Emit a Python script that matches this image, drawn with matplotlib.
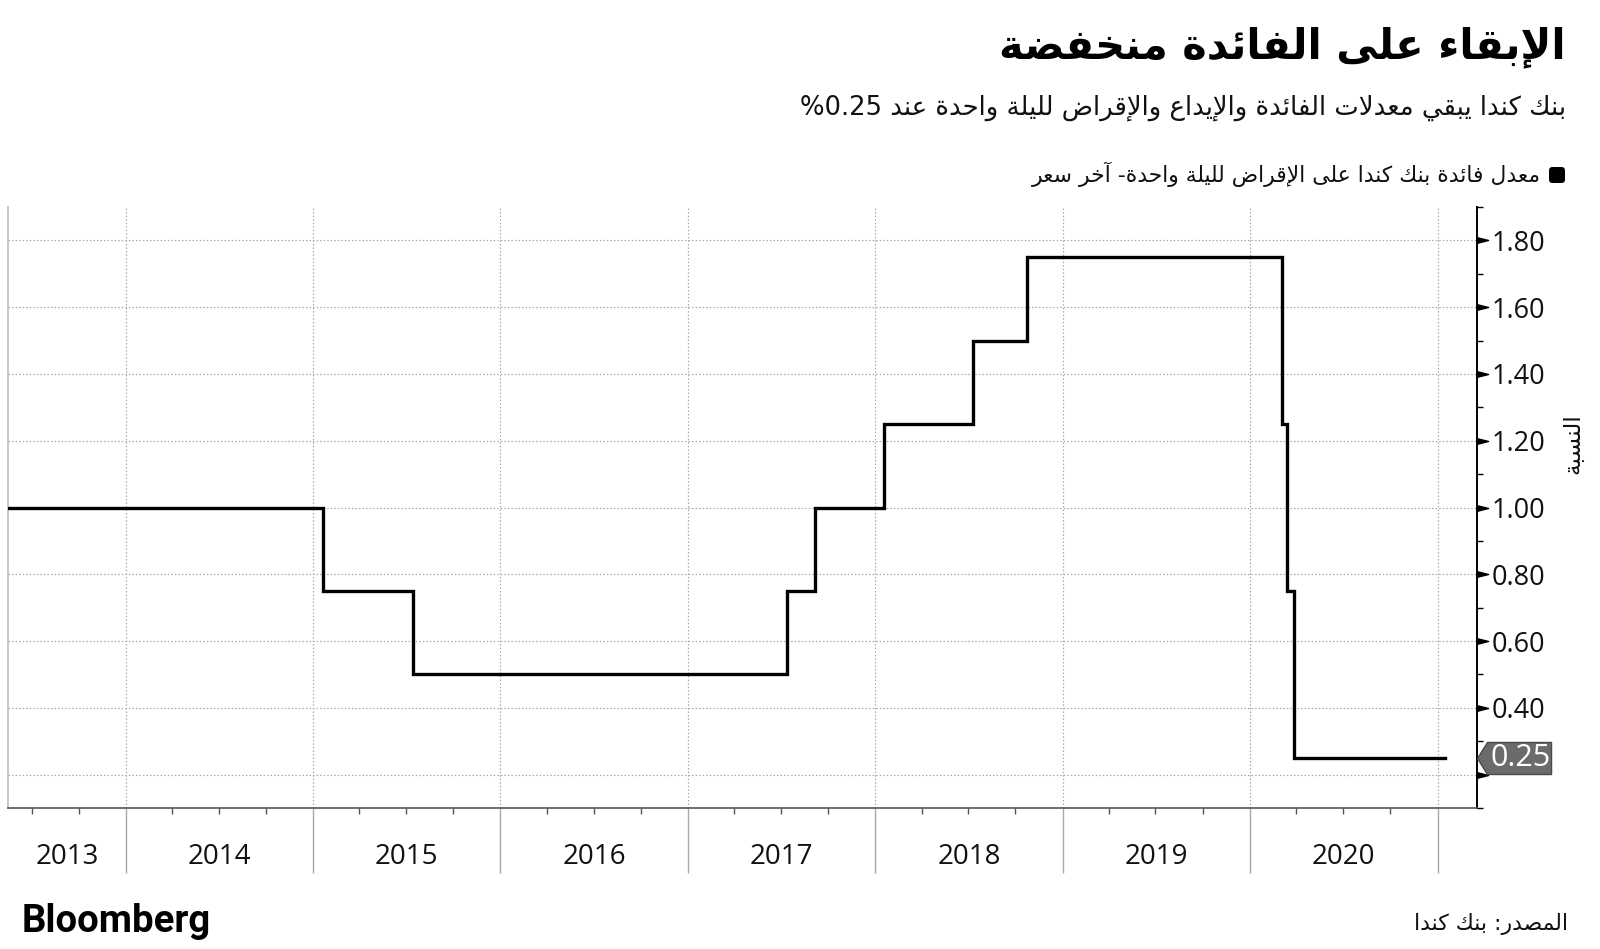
import re
import datetime as dt
import matplotlib
matplotlib.use("Agg")
import matplotlib.pyplot as plt
import matplotlib.dates as mdates
from matplotlib.ticker import FixedLocator, FixedFormatter, NullFormatter
from matplotlib.patches import FancyBboxPatch

# ---------------- data ----------------
title = "الإبقاء على الفائدة منخفضة"
subtitle = "بنك كندا يبقي معدلات الفائدة والإيداع والإقراض لليلة واحدة عند 0.25%"
legend_label = "معدل فائدة بنك كندا على الإقراض لليلة واحدة- آخر سعر"
y_label = "النسبة"
source = "المصدر: بنك كندا"
brand = "Bloomberg"

change_dates = ["2013-05-16", "2015-01-21", "2015-07-15", "2017-07-12",
                "2017-09-06", "2018-01-17", "2018-07-11", "2018-10-24",
                "2020-03-04", "2020-03-13", "2020-03-27", "2021-01-15"]
rates = [1.00, 0.75, 0.50, 0.75, 1.00, 1.25, 1.50, 1.75, 1.25, 0.75, 0.25, 0.25]

years = [2013, 2014, 2015, 2016, 2017, 2018, 2019, 2020]
y_major = [0.2, 0.4, 0.6, 0.8, 1.0, 1.2, 1.4, 1.6, 1.8]
y_major_labels = ["", "0.40", "0.60", "0.80", "1.00", "1.20", "1.40", "1.60", "1.80"]
y_minor = [0.1, 0.3, 0.5, 0.7, 0.9, 1.1, 1.3, 1.5, 1.7, 1.9]
last_value_label = "0.25"
last_value = 0.25

# ---------------- Arabic shaping (presentation forms + visual order) ----------------
_DUAL = {'ئ': 0xFE89, 'ب': 0xFE8F, 'ت': 0xFE95, 'ث': 0xFE99, 'ج': 0xFE9D, 'ح': 0xFEA1,
         'خ': 0xFEA5, 'س': 0xFEB1, 'ش': 0xFEB5, 'ص': 0xFEB9, 'ض': 0xFEBD, 'ط': 0xFEC1,
         'ظ': 0xFEC5, 'ع': 0xFEC9, 'غ': 0xFECD, 'ف': 0xFED1, 'ق': 0xFED5, 'ك': 0xFED9,
         'ل': 0xFEDD, 'م': 0xFEE1, 'ن': 0xFEE5, 'ه': 0xFEE9, 'ي': 0xFEF1}
_RIGHT = {'آ': 0xFE81, 'أ': 0xFE83, 'ؤ': 0xFE85, 'إ': 0xFE87, 'ا': 0xFE8D, 'ة': 0xFE93,
          'د': 0xFEA9, 'ذ': 0xFEAB, 'ر': 0xFEAD, 'ز': 0xFEAF, 'و': 0xFEED, 'ى': 0xFEEF}
_NONE = {'ء': 0xFE80}
_LAMALEF = {'آ': 0xFEF5, 'أ': 0xFEF7, 'إ': 0xFEF9, 'ا': 0xFEFB}


def ar(s):
    out = []
    n = len(s)
    i = 0
    while i < n:
        c = s[i]
        prev_dual = i > 0 and s[i - 1] in _DUAL
        if c == 'ل' and i + 1 < n and s[i + 1] in _LAMALEF:
            base = _LAMALEF[s[i + 1]]
            out.append(chr(base + (1 if prev_dual else 0)))
            i += 2
            continue
        if c in _DUAL:
            nxt = i + 1 < n and (s[i + 1] in _DUAL or s[i + 1] in _RIGHT)
            base = _DUAL[c]
            if prev_dual and nxt:
                code = base + 3
            elif prev_dual:
                code = base + 1
            elif nxt:
                code = base + 2
            else:
                code = base
            out.append(chr(code))
        elif c in _RIGHT:
            out.append(chr(_RIGHT[c] + (1 if prev_dual else 0)))
        elif c in _NONE:
            out.append(chr(_NONE[c]))
        else:
            out.append(c)
        i += 1
    shaped = ''.join(out)
    tokens = re.findall(r'[0-9A-Za-z.]+|.', shaped)
    return ''.join(reversed(tokens))


AR_FONT = ["DejaVu Sans"]
NUM_FONT = ["Open Sans", "DejaVu Sans"]

# ---------------- figure ----------------
W, H = 1600, 949
fig = plt.figure(figsize=(W / 100, H / 100), dpi=100)
fig.patch.set_facecolor("white")


def fx(px):
    return px / W


def fy(py):
    return 1 - py / H


ax = fig.add_axes([fx(8), fy(808), fx(1477) - fx(8), fy(207) - fy(808)])

dates = [dt.datetime.strptime(d, "%Y-%m-%d") for d in change_dates]
ax.plot(dates, rates, drawstyle="steps-post", color="black", lw=2.4,
        solid_joinstyle="miter", zorder=3)

x0 = dt.datetime(2013, 5, 16)
x1 = dt.datetime(2021, 3, 19)
ax.set_xlim(x0, x1)
ax.set_ylim(0.1, 1.9)

# x axis ticks
year_starts = [dt.datetime(y + 1, 1, 1) for y in years]
quarters = [dt.datetime(y, m, 1) for y in years + [2021] for m in (4, 7, 10)]
ax.xaxis.set_major_locator(FixedLocator(mdates.date2num(year_starts)))
ax.xaxis.set_minor_locator(FixedLocator(mdates.date2num(quarters)))
ax.xaxis.set_major_formatter(NullFormatter())
ax.xaxis.set_minor_formatter(NullFormatter())
ax.tick_params(axis="x", which="major", direction="out", length=47, width=1,
               color="#a8a8a8")
ax.tick_params(axis="x", which="minor", direction="out", length=4, width=1,
               color="#555555")

# y axis on the right
ax.yaxis.tick_right()
ax.yaxis.set_major_locator(FixedLocator(y_major))
ax.yaxis.set_major_formatter(FixedFormatter(y_major_labels))
ax.yaxis.set_minor_locator(FixedLocator(y_minor))
ax.tick_params(axis="y", which="major", length=0, pad=10.5, labelsize=19.5,
               labelcolor="#111111")
ax.tick_params(axis="y", which="minor", direction="out", length=4.3, width=1,
               color="black", right=True, left=False)
for lab in ax.get_yticklabels():
    lab.set_family(NUM_FONT)

# triangle major tick marks
tri = [(0, -2.5), (10, 0), (0, 2.5), (0, -2.5)]
ax.plot([1] * len(y_major), y_major, ls="none", marker=tri, ms=16, color="black",
        transform=ax.get_yaxis_transform(), clip_on=False, zorder=4)

# grid
ax.grid(True, which="major", axis="both", linestyle=(0, (1.2, 1.8)),
        color="#a4a4a4", lw=0.85)
ax.set_axisbelow(True)

# spines
ax.spines["top"].set_visible(False)
ax.spines["left"].set_color("#bdbdbd")
ax.spines["left"].set_linewidth(1.2)
ax.spines["right"].set_color("black")
ax.spines["right"].set_linewidth(1.4)
ax.spines["bottom"].set_color("#555555")
ax.spines["bottom"].set_linewidth(1.2)

# year labels centred on the visible part of each year
for y in years:
    a = max(mdates.date2num(dt.datetime(y, 1, 1)), mdates.date2num(x0))
    b = min(mdates.date2num(dt.datetime(y + 1, 1, 1)), mdates.date2num(x1))
    ax.text((a + b) / 2, -0.0815, str(y), transform=ax.get_xaxis_transform(),
            ha="center", va="center", fontsize=20, family=NUM_FONT,
            color="#111111")

# last value label (pointer box)
box = [(0, 0), (10, -16), (74, -16), (74, 16), (10, 16), (0, 0)]
ax.plot([1], [last_value], ls="none", marker=box, ms=106.6, mfc="#6b6b6b",
        mec="#4a4a4a", mew=1, transform=ax.get_yaxis_transform(), clip_on=False,
        zorder=5)
ax.annotate(last_value_label, xy=(1, last_value), xycoords=ax.get_yaxis_transform(),
            xytext=(31.5, 0), textcoords="offset points", ha="center", va="center",
            color="white", fontsize=22, family=NUM_FONT, zorder=6,
            annotation_clip=False)

# ---------------- texts ----------------
t_title = fig.text(fx(1566), fy(47), ar(title), ha="right", va="center",
                   fontsize=30, fontweight="bold", family=AR_FONT, color="black")
t_sub = fig.text(fx(1566), fy(108), ar(subtitle), ha="right", va="center",
                 fontsize=18, family=AR_FONT, color="#111111")
t_leg = fig.text(fx(1541), fy(174), ar(legend_label), ha="right", va="center",
                 fontsize=16, family=AR_FONT, color="#111111")
legend_sq = FancyBboxPatch((15.49, (H - 183) / 100), 0.16, 0.16,
                           boxstyle="round,pad=0,rounding_size=0.035",
                           transform=fig.dpi_scale_trans, facecolor="black",
                           edgecolor="none")
fig.patches.append(legend_sq)
t_ylab = fig.text(fx(1573), fy(444), ar(y_label), ha="center", va="center",
                  rotation=90, fontsize=15, family=AR_FONT, color="#111111")
t_src = fig.text(fx(1568), fy(924), ar(source), ha="right", va="center",
                 fontsize=15, family=AR_FONT, color="#111111")
t_brand = fig.text(fx(22), fy(922), brand, ha="left", va="center",
                   fontsize=24, fontweight="bold", family=["Roboto", "DejaVu Sans"],
                   color="black")

# fit text widths to the reference layout
fig.canvas.draw()
r = fig.canvas.get_renderer()
for t, target, dim in [(t_title, 566, "w"), (t_sub, 767, "w"), (t_leg, 510, "w"),
                       (t_ylab, 61, "h"), (t_src, 155, "w"), (t_brand, 189, "w")]:
    bb = t.get_window_extent(r)
    cur = bb.width if dim == "w" else bb.height
    t.set_fontsize(t.get_fontsize() * target / cur)

fig.savefig("out.png", dpi=100, facecolor="white")
